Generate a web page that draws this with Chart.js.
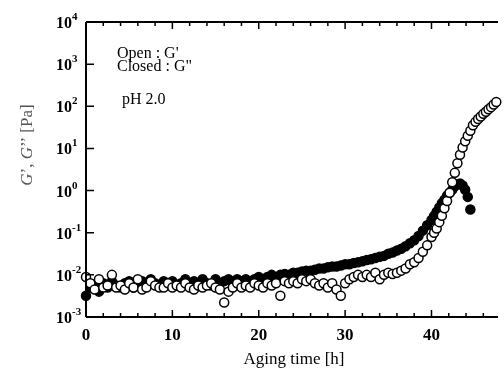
<!DOCTYPE html>
<html>
<head>
<meta charset="utf-8">
<script src="https://cdn.jsdelivr.net/npm/chart.js@4.4.1/dist/chart.umd.min.js"></script>
<style>
html, body { margin: 0; padding: 0; background: #fff; }
canvas { display: block; }
</style>
</head>
<body>
<canvas id="agingChart" width="504" height="372"></canvas>
<script>
// aging time [h]
const hours = [
  0, 0.5, 1, 1.5, 2, 2.5, 3, 3.5, 4, 4.5, 5, 5.5, 6, 6.5, 7, 7.5, 8, 8.5, 9, 9.5,
  10, 10.5, 11, 11.5, 12, 12.5, 13, 13.5, 14, 14.5, 15, 15.5, 16, 16.5, 17, 17.5, 18, 18.5, 19, 19.5,
  20, 20.5, 21, 21.5, 22, 22.5, 23, 23.5, 24, 24.5, 25, 25.5, 26, 26.5, 27, 27.5, 28, 28.5, 29, 29.5,
  30, 30.5, 31, 31.5, 32, 32.5, 33, 33.5, 34, 34.5, 35, 35.5, 36, 36.5, 37, 37.5, 38, 38.5, 39, 39.5,
  40, 40.3, 40.6, 40.9, 41.2, 41.5, 41.8, 42.1, 42.4, 42.7, 43.0, 43.3, 43.6, 43.9, 44.2, 44.5,
  44.8, 45.1, 45.4, 45.7, 46.0, 46.3, 46.6, 46.9, 47.2, 47.5
];

// G' [Pa] (open symbols)
const storageModulus = [
  8.9e-3, 6.3e-3, 4.5e-3, 7.9e-3, 5.0e-3, 5.6e-3, 1.0e-2, 5.0e-3, 5.6e-3, 4.5e-3,
  6.3e-3, 5.0e-3, 7.9e-3, 4.5e-3, 5.0e-3, 7.1e-3, 5.6e-3, 5.0e-3, 5.0e-3, 6.3e-3,
  5.0e-3, 5.6e-3, 5.0e-3, 6.3e-3, 5.0e-3, 4.5e-3, 5.6e-3, 5.0e-3, 5.6e-3, 6.3e-3,
  5.0e-3, 4.5e-3, 2.2e-3, 4.0e-3, 5.0e-3, 6.3e-3, 5.0e-3, 5.6e-3, 5.0e-3, 6.3e-3,
  5.6e-3, 5.0e-3, 6.3e-3, 5.6e-3, 6.3e-3, 3.2e-3, 7.1e-3, 6.3e-3, 7.1e-3, 6.3e-3,
  7.9e-3, 7.1e-3, 7.9e-3, 6.3e-3, 5.6e-3, 6.3e-3, 5.0e-3, 6.3e-3, 4.5e-3, 3.2e-3,
  6.3e-3, 7.9e-3, 8.9e-3, 1.0e-2, 8.9e-3, 1.0e-2, 8.9e-3, 1.12e-2, 7.9e-3, 1.0e-2,
  1.12e-2, 1.05e-2, 1.12e-2, 1.26e-2, 1.41e-2, 1.78e-2, 2.0e-2, 2.51e-2, 3.55e-2, 5.01e-2,
  7.94e-2, 0.1, 0.126, 0.178, 0.251, 0.38, 0.562, 0.891, 1.58, 2.63,
  4.47, 7.08, 10.5, 14.8, 20.0, 26.3, 35.5, 42.7, 50.1, 57.5,
  66.1, 74.1, 85.1, 95.5, 110, 126
];

// G'' [Pa] (closed symbols)
const lossModulus = [
  3.2e-3, 5.0e-3, 5.6e-3, 4.0e-3, 6.3e-3, 5.0e-3, 7.1e-3, 5.6e-3, 5.0e-3, 6.3e-3,
  7.1e-3, 5.0e-3, 5.6e-3, 7.1e-3, 6.3e-3, 7.9e-3, 6.3e-3, 5.6e-3, 7.1e-3, 6.3e-3,
  7.1e-3, 5.6e-3, 6.3e-3, 7.9e-3, 6.3e-3, 7.1e-3, 6.3e-3, 7.9e-3, 6.3e-3, 5.6e-3,
  7.9e-3, 6.3e-3, 7.1e-3, 7.9e-3, 6.3e-3, 7.9e-3, 7.1e-3, 7.9e-3, 7.1e-3, 7.9e-3,
  8.9e-3, 7.9e-3, 8.9e-3, 1.0e-2, 8.9e-3, 1.0e-2, 1.05e-2, 1.0e-2, 1.12e-2, 1.12e-2,
  1.2e-2, 1.26e-2, 1.26e-2, 1.32e-2, 1.41e-2, 1.41e-2, 1.51e-2, 1.58e-2, 1.58e-2, 1.66e-2,
  1.78e-2, 1.78e-2, 1.91e-2, 2.0e-2, 2.09e-2, 2.24e-2, 2.34e-2, 2.51e-2, 2.69e-2, 2.82e-2,
  3.16e-2, 3.39e-2, 3.8e-2, 4.17e-2, 4.79e-2, 5.62e-2, 6.61e-2, 8.32e-2, 0.112, 0.151,
  0.2, 0.251, 0.316, 0.398, 0.501, 0.603, 0.759, 0.891, 1.05, 1.26,
  1.41, 1.48, 1.32, 1.05, 0.708, 0.355,
  null, null, null, null, null, null, null, null, null, null
];

const yTickExponents = [-3, -2, -1, 0, 1, 2, 3, 4];
const xTickLabels = [0, 10, 20, 30, 40];
const notes = ["Open : G'", 'Closed : G"', 'pH 2.0'];

const serif = '"Liberation Serif", "Times New Roman", serif';

const toPoints = vals => hours.map((h, i) => ({ x: h, y: vals[i] }));

// axes, inward ticks and text drawn over the plot
const framePlugin = {
  id: 'frame',
  afterDraw(chart) {
    const c = chart.ctx;
    const xs = chart.scales.x, ys = chart.scales.y;
    const a = chart.chartArea;
    c.save();
    c.strokeStyle = '#000';
    c.lineWidth = 2;
    c.beginPath();
    c.moveTo(a.left, a.top); c.lineTo(a.right, a.top);
    c.moveTo(a.left, a.top); c.lineTo(a.left, a.bottom);
    c.moveTo(a.left, a.bottom); c.lineTo(a.right, a.bottom);
    c.stroke();

    c.lineWidth = 1.5;
    c.beginPath();
    for (let v = 0; v <= xs.max; v += 2) {
      const px = xs.getPixelForValue(v);
      const len = v % 10 === 0 ? 7 : 4;
      c.moveTo(px, a.bottom); c.lineTo(px, a.bottom - len);
      c.moveTo(px, a.top); c.lineTo(px, a.top + len);
    }
    yTickExponents.forEach(e => {
      const py = ys.getPixelForValue(Math.pow(10, e));
      c.moveTo(a.left, py); c.lineTo(a.left + 8, py);
    });
    c.stroke();

    // y tick labels 10^n
    c.fillStyle = '#000';
    c.textBaseline = 'alphabetic';
    yTickExponents.forEach(e => {
      const py = ys.getPixelForValue(Math.pow(10, e));
      c.font = 'bold 16px ' + serif;
      c.textAlign = 'right';
      c.fillText('10', 72, py + 6);
      c.font = 'bold 11px ' + serif;
      c.textAlign = 'left';
      c.fillText(e < 0 ? '-' + Math.abs(e) : String(e), 72, py - 2);
    });

    // x title
    c.font = '17px ' + serif;
    c.textAlign = 'center';
    c.fillText('Aging time [h]', 294, 364);

    // y title
    c.save();
    c.translate(32, 145);
    c.rotate(-Math.PI / 2);
    c.fillStyle = '#555';
    const parts = [['G', true], ['\u2019, ', false], ['G', true], ['\u2019\u2019 [Pa]', false]];
    let w = 0;
    parts.forEach(p => { c.font = (p[1] ? 'italic ' : '') + '17px ' + serif; w += c.measureText(p[0]).width; });
    let x0 = -w / 2;
    c.textAlign = 'left';
    parts.forEach(p => {
      c.font = (p[1] ? 'italic ' : '') + '17px ' + serif;
      c.fillText(p[0], x0, 0);
      x0 += c.measureText(p[0]).width;
    });
    c.restore();

    // notes
    c.font = '16px ' + serif;
    c.textAlign = 'left';
    c.fillText(notes[0], 117, 58);
    c.fillText(notes[1], 117, 71);
    c.fillText(notes[2], 122, 104);
    c.restore();
  }
};

new Chart(document.getElementById('agingChart'), {
  type: 'scatter',
  data: {
    datasets: [{
      label: "G'",
      data: toPoints(storageModulus),
      pointStyle: 'circle',
      pointRadius: 4.5,
      pointBorderWidth: 1.5,
      pointBorderColor: '#000',
      pointBackgroundColor: '#fff',
      clip: false
    }, {
      label: 'G"',
      data: toPoints(lossModulus),
      pointStyle: 'circle',
      pointRadius: 4.5,
      pointBorderWidth: 1.5,
      pointBorderColor: '#000',
      pointBackgroundColor: '#000',
      clip: false
    }]
  },
  options: {
    responsive: false,
    animation: false,
    devicePixelRatio: 1,
    layout: { padding: { top: 22, right: 0, left: 0, bottom: 0 } },
    plugins: { legend: { display: false }, tooltip: { enabled: false } },
    scales: {
      x: {
        type: 'linear',
        min: 0,
        max: 47.7,
        grid: { display: false, drawTicks: false },
        border: { display: false },
        afterBuildTicks: s => { s.ticks = xTickLabels.map(v => ({ value: v })); },
        afterFit: s => { s.height = 55; },
        ticks: {
          color: '#000',
          padding: 8,
          maxRotation: 0,
          font: { family: serif, size: 17, weight: 'bold' }
        }
      },
      y: {
        type: 'logarithmic',
        min: 1e-3,
        max: 1e4,
        grid: { display: false },
        border: { display: false },
        ticks: { display: false },
        afterFit: s => { s.width = 86; }
      }
    }
  },
  plugins: [framePlugin]
});
</script>
</body>
</html>
